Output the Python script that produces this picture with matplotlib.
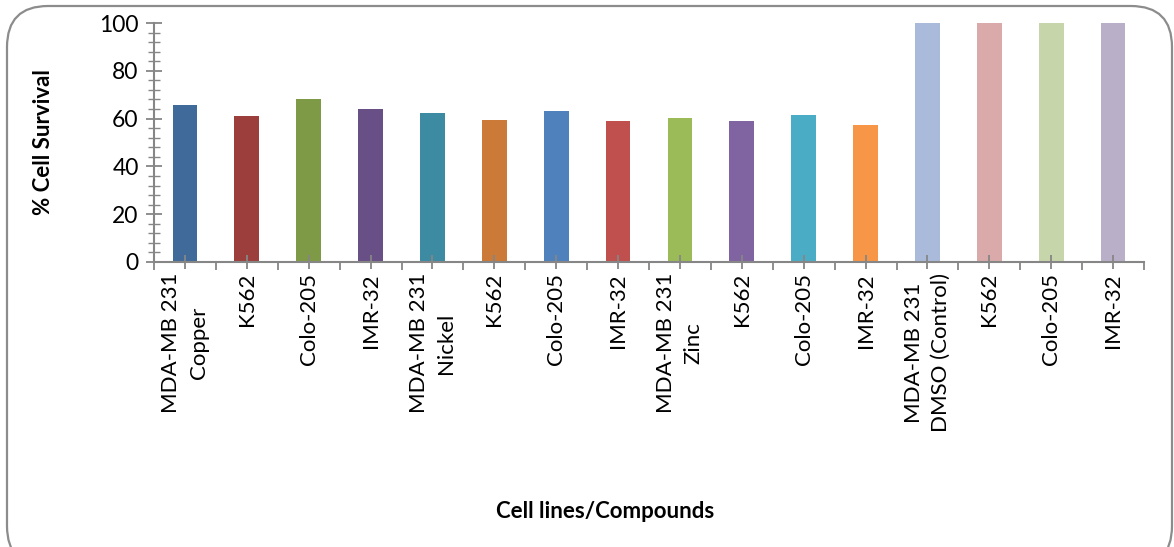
import numpy as np
import matplotlib.pyplot as plt
from matplotlib.patches import FancyBboxPatch
from matplotlib.ticker import MultipleLocator, FixedLocator

labels = ['MDA-MB 231\nCopper', 'K562', 'Colo-205', 'IMR-32',
          'MDA-MB 231\nNickel', 'K562', 'Colo-205', 'IMR-32',
          'MDA-MB 231\nZinc', 'K562', 'Colo-205', 'IMR-32',
          'MDA-MB 231\nDMSO (Control)', 'K562', 'Colo-205', 'IMR-32']
survival = [65.8, 61.2, 68.3, 64.1,
            62.5, 59.5, 63.3, 59.1,
            60.4, 59.1, 61.6, 57.4,
            100, 100, 100, 100]
colors = ['#3F6A9A', '#9C3F3C', '#7F9A47', '#684F85',
          '#3C8BA3', '#CB7A38', '#4F81BD', '#C0504D',
          '#9BBB59', '#8064A2', '#4BACC6', '#F79646',
          '#AABADA', '#DAA9A9', '#C7D5AB', '#BAAFC8']

plt.rcParams['font.family'] = ['Lato', 'DejaVu Sans']
axis_gray = '#868686'


def main():
    fig = plt.figure(figsize=(11.74, 5.47), dpi=100)

    # rounded chart border, bottom edge runs off the image
    frame = FancyBboxPatch((7 / 1174, -20 / 547), 1165 / 1174, 561 / 547,
                           boxstyle='round,pad=0,rounding_size=0.035',
                           transform=fig.transFigure, fill=False,
                           edgecolor='#8C8C8C', linewidth=1.6,
                           mutation_aspect=1174 / 547)
    fig.patches.append(frame)

    ax = fig.add_axes([154 / 1174, 1 - 262 / 547, 990 / 1174, 239 / 547])
    x = np.arange(len(survival))
    ax.bar(x, survival, width=0.4, color=colors)

    ax.set_xlim(-0.5, len(survival) - 0.5)
    ax.set_ylim(0, 100)
    for side in ['top', 'right']:
        ax.spines[side].set_visible(False)
    for side in ['left', 'bottom']:
        ax.spines[side].set_color(axis_gray)
        ax.spines[side].set_linewidth(1.5)

    # y axis: crossing major and minor ticks
    ax.yaxis.set_major_locator(MultipleLocator(20))
    ax.yaxis.set_minor_locator(MultipleLocator(4))
    ax.tick_params(axis='y', which='major', direction='inout', length=12,
                   width=1.3, color=axis_gray, labelsize=16.5, pad=5)
    ax.tick_params(axis='y', which='minor', direction='inout', length=8,
                   width=1.0, color=axis_gray)

    # x axis: labels at bar centres, outward ticks at category boundaries
    ax.set_xticks(x)
    ax.set_xticklabels(labels, rotation=90, va='top', ha='center',
                       multialignment='center', fontsize=16, linespacing=1.45)
    ax.xaxis.set_minor_locator(FixedLocator(np.arange(-0.5, len(survival), 1.0)))
    ax.tick_params(axis='x', which='major', direction='inout', length=10,
                   width=1.3, color=axis_gray, pad=3)
    ax.tick_params(axis='x', which='minor', direction='out', length=6,
                   width=1.3, color=axis_gray)

    ax.set_ylabel('% Cell Survival', fontsize=16, fontweight='bold', va='center')
    ax.yaxis.set_label_coords(-(154 - 44) / 990, 0.5)
    fig.text(605 / 1174, 1 - 512 / 547, 'Cell lines/Compounds',
             ha='center', va='center', fontsize=16, fontweight='bold')

    plt.savefig('out.png', dpi=100)
    plt.close()


if __name__ == "__main__":
    main()
